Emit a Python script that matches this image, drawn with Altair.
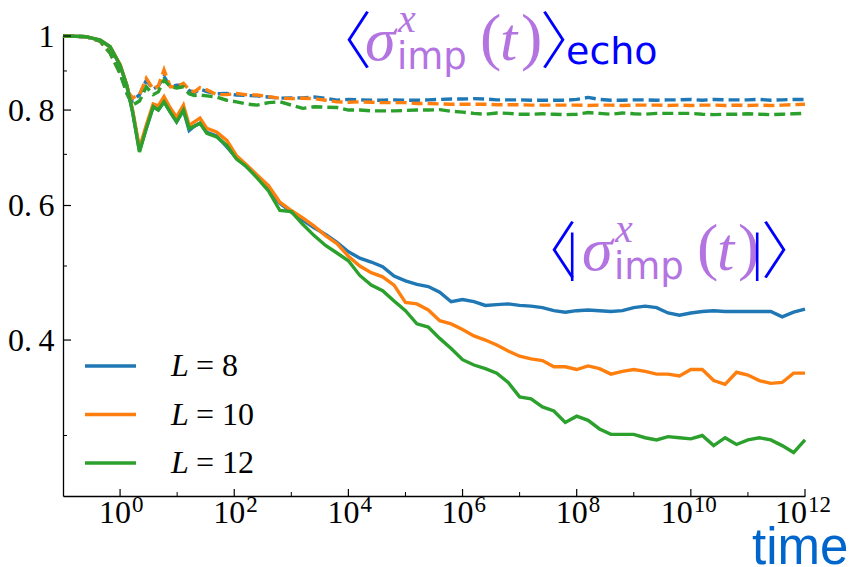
import altair as alt
import numpy as np
import pandas as pd

# ---------------- data ----------------
log_time = [-1.0, -0.6, -0.35, -0.175, 0.0, 0.12, 0.22, 0.34, 0.46, 0.58, 0.67, 0.77, 0.88, 0.99, 1.11, 1.21, 1.3, 1.4, 1.52, 1.69, 1.87, 2.04,
            2.2, 2.4, 2.6, 2.8, 3.0, 3.2, 3.4, 3.6, 3.8, 4.0, 4.2, 4.4, 4.6, 4.8, 5.0, 5.2, 5.4, 5.6, 5.8, 6.0, 6.2, 6.4, 6.6, 6.8,
            7.0, 7.2, 7.4, 7.6, 7.8, 8.0, 8.2, 8.4, 8.6, 8.8, 9.0, 9.2, 9.4, 9.6, 9.8, 10.0, 10.2, 10.4, 10.6, 10.8, 11.0, 11.2,
            11.4, 11.6, 11.8, 12.0]

abs_L8 = [1.0, 0.998, 0.988, 0.968, 0.916, 0.86, 0.795, 0.708, 0.758, 0.808, 0.80, 0.82, 0.795, 0.772, 0.80, 0.752, 0.762, 0.769, 0.748, 0.740, 0.716, 0.692,
          0.676, 0.655, 0.630, 0.604, 0.588, 0.574, 0.561, 0.550, 0.537, 0.522,
          0.512, 0.506, 0.499, 0.485, 0.478, 0.473, 0.470, 0.462, 0.449, 0.452,
          0.449, 0.444, 0.445, 0.446, 0.444, 0.443, 0.441, 0.437, 0.435, 0.437,
          0.438, 0.437, 0.436, 0.437, 0.441, 0.443, 0.441, 0.434, 0.431, 0.434,
          0.436, 0.437, 0.436, 0.436, 0.436, 0.436, 0.436, 0.429, 0.435, 0.439]
abs_L10 = [1.0, 0.998, 0.988, 0.968, 0.918, 0.862, 0.80, 0.714, 0.765, 0.815, 0.81, 0.833, 0.805, 0.783, 0.812, 0.764, 0.772, 0.781, 0.757, 0.749, 0.730, 0.697,
           0.680, 0.658, 0.637, 0.606, 0.591, 0.578, 0.564, 0.548, 0.535, 0.515,
           0.500, 0.490, 0.484, 0.472, 0.448, 0.446, 0.438, 0.424, 0.420, 0.413,
           0.405, 0.400, 0.394, 0.387, 0.381, 0.378, 0.376, 0.369, 0.369, 0.366,
           0.370, 0.367, 0.361, 0.364, 0.366, 0.364, 0.361, 0.361, 0.359, 0.366,
           0.366, 0.354, 0.350, 0.363, 0.360, 0.354, 0.351, 0.352, 0.362, 0.362]
abs_L12 = [1.0, 0.998, 0.988, 0.968, 0.916, 0.86, 0.795, 0.705, 0.757, 0.808, 0.80, 0.82, 0.795, 0.772, 0.80, 0.757, 0.762, 0.769, 0.746, 0.738, 0.719, 0.69,
           0.676, 0.652, 0.627, 0.591, 0.589, 0.567, 0.548, 0.532, 0.520, 0.508,
           0.486, 0.472, 0.464, 0.450, 0.437, 0.420, 0.416, 0.402, 0.390, 0.377,
           0.371, 0.367, 0.362, 0.352, 0.337, 0.335, 0.327, 0.323, 0.312, 0.318,
           0.314, 0.306, 0.301, 0.301, 0.301, 0.298, 0.296, 0.299, 0.298, 0.297,
           0.300, 0.291, 0.298, 0.292, 0.296, 0.298, 0.296, 0.291, 0.285, 0.296]

echo_L8 = [1.0, 0.998, 0.985, 0.95, 0.894, 0.845, 0.822, 0.838, 0.875, 0.852, 0.86, 0.885, 0.858, 0.862, 0.862, 0.848, 0.843, 0.852, 0.846, 0.84, 0.841, 0.837,
           0.836, 0.835, 0.832, 0.829, 0.83, 0.83, 0.832, 0.829, 0.824, 0.826,
           0.825, 0.824, 0.824, 0.825, 0.824, 0.824, 0.825, 0.826, 0.827, 0.827,
           0.828, 0.827, 0.825, 0.825, 0.825, 0.824, 0.824, 0.824, 0.824, 0.826,
           0.831, 0.826, 0.824, 0.824, 0.825, 0.825, 0.824, 0.825, 0.825, 0.826,
           0.824, 0.826, 0.825, 0.825, 0.825, 0.826, 0.824, 0.825, 0.826, 0.826]
echo_L10 = [1.0, 0.998, 0.985, 0.95, 0.894, 0.848, 0.83, 0.838, 0.88, 0.852, 0.86, 0.903, 0.858, 0.858, 0.867, 0.85, 0.845, 0.856, 0.85, 0.838, 0.838, 0.841,
            0.838, 0.837, 0.833, 0.829, 0.828, 0.829, 0.828, 0.824, 0.82, 0.819,
            0.82, 0.819, 0.818, 0.818, 0.818, 0.816, 0.816, 0.815, 0.814, 0.814,
            0.814, 0.814, 0.813, 0.813, 0.813, 0.812, 0.812, 0.812, 0.812, 0.812,
            0.811, 0.812, 0.812, 0.811, 0.812, 0.812, 0.812, 0.811, 0.812, 0.811,
            0.812, 0.812, 0.811, 0.812, 0.811, 0.812, 0.811, 0.812, 0.813, 0.814]
echo_L12 = [1.0, 0.998, 0.985, 0.95, 0.894, 0.84, 0.812, 0.822, 0.858, 0.838, 0.845, 0.876, 0.858, 0.855, 0.858, 0.84, 0.836, 0.837, 0.835, 0.832, 0.824, 0.82,
            0.815, 0.812, 0.818, 0.82, 0.812, 0.804, 0.808, 0.807, 0.806, 0.80,
            0.80, 0.798, 0.798, 0.798, 0.799, 0.80, 0.80, 0.801, 0.797, 0.795,
            0.792, 0.79, 0.793, 0.792, 0.79, 0.79, 0.791, 0.79, 0.789, 0.79,
            0.794, 0.792, 0.79, 0.793, 0.791, 0.79, 0.792, 0.792, 0.792, 0.792,
            0.79, 0.789, 0.79, 0.79, 0.791, 0.79, 0.789, 0.79, 0.791, 0.792]

system_sizes = ["8", "10", "12"]
series_colors = ["#1f77b4", "#ff7f0e", "#2ca02c"]

x_major_ticks = [1e0, 1e2, 1e4, 1e6, 1e8, 1e10, 1e12]
x_tick_base = "10"
x_tick_exponents = ["0", "2", "4", "6", "8", "10", "12"]
x_minor_ticks = [1e1, 1e3, 1e5, 1e7, 1e9, 1e11]
y_major_ticks = [0.4, 0.6, 0.8, 1.0]
y_tick_labels = ["0.\u20094", "0.\u20096", "0.\u20098", "1"]
y_minor_ticks = [0.3, 0.5, 0.7, 0.9]

legend_prefix = "L"
x_title = "time"

# ---------------- frames ----------------
time = [10 ** v for v in log_time]
abs_series = {"8": abs_L8, "10": abs_L10, "12": abs_L12}
echo_series = {"8": echo_L8, "10": echo_L10, "12": echo_L12}

W, H = 742, 460
serif = "Liberation Serif"
sans = "DejaVu Sans"
cjk = "Noto Sans CJK SC"
LW = 3.4

y_expr = " : ".join(
    f"abs(datum.value - {v}) < 0.001 ? '{lab}'"
    for v, lab in zip(y_major_ticks, y_tick_labels)) + " : ''"

x_axis = alt.Axis(values=x_major_ticks, labels=False, ticks=False, grid=False,
                  domainColor="black", domainWidth=1.3, title=None)
y_axis = alt.Axis(values=y_major_ticks, labelExpr=y_expr, ticks=False, grid=False,
                  domainColor="black", domainWidth=1.3, labelFont=serif, labelFontSize=32,
                  labelColor="black", labelPadding=9, labelOverlap=False, title=None)

X = alt.X("time:Q", scale=alt.Scale(type="log", domain=[0.1, 1e12], nice=False), axis=x_axis)
Y = alt.Y("value:Q", scale=alt.Scale(type="log", domain=[0.25, 1.0], nice=False), axis=y_axis)

layers = []
for L, c in zip(system_sizes, series_colors):
    df = pd.DataFrame({"time": time, "value": echo_series[L]})
    layers.append(alt.Chart(df).mark_line(color=c, strokeWidth=LW, strokeDash=[11, 5])
                  .encode(x=X, y=Y))
for L, c in zip(system_sizes, series_colors):
    df = pd.DataFrame({"time": time, "value": abs_series[L]})
    layers.append(alt.Chart(df).mark_line(color=c, strokeWidth=LW).encode(x=X, y=Y))

# inward tick marks
xt_major = pd.DataFrame({"time": x_major_ticks})
xt_minor = pd.DataFrame({"time": x_minor_ticks})
yt_major = pd.DataFrame({"value": y_major_ticks})
yt_minor = pd.DataFrame({"value": y_minor_ticks})
layers.append(alt.Chart(xt_major).mark_rule(color="black", strokeWidth=1.2)
              .encode(x=X, y=alt.value(H), y2=alt.value(H - 7)))
layers.append(alt.Chart(xt_minor).mark_rule(color="black", strokeWidth=1.0)
              .encode(x=X, y=alt.value(H), y2=alt.value(H - 4)))
layers.append(alt.Chart(yt_major).mark_rule(color="black", strokeWidth=1.2)
              .encode(y=Y, x=alt.value(0), x2=alt.value(8)))
layers.append(alt.Chart(yt_minor).mark_rule(color="black", strokeWidth=1.0)
              .encode(y=Y, x=alt.value(0), x2=alt.value(4)))

# x tick labels: "10" with raised exponent
xl = pd.DataFrame({"time": x_major_ticks, "exp": x_tick_exponents})
xl_short = xl[xl["exp"].str.len() == 1]
xl_long = xl[xl["exp"].str.len() > 1]
for frame, shift in ((xl_short, 11), (xl_long, 2)):
    layers.append(alt.Chart(frame).mark_text(
        text=x_tick_base, align="right", baseline="alphabetic", font=serif, fontSize=32,
        color="black", dx=shift).encode(x=X, y=alt.value(H + 27)))
    layers.append(alt.Chart(frame).mark_text(
        align="left", baseline="alphabetic", font=serif, fontSize=23,
        color="black", dx=shift + 1).encode(x=X, y=alt.value(H + 16), text="exp:N"))

main = alt.layer(*layers)

# ---------------- legend ----------------
leg_df = pd.DataFrame({"row": [0, 1, 2], "L": system_sizes,
                       "eq": ["= " + s for s in system_sizes]})
YL = alt.Y("row:Q", scale=alt.Scale(domain=[0, 2], range=[330, 427]), axis=None)
CL = alt.Color("L:N", scale=alt.Scale(domain=system_sizes, range=series_colors), legend=None)
leg_lines = alt.Chart(leg_df).mark_rule(strokeWidth=LW).encode(
    x=alt.value(22), x2=alt.value(73), y=YL, color=CL)
leg_L = alt.Chart(leg_df).mark_text(text=legend_prefix, align="left", baseline="middle",
                                    font=serif, fontSize=32, fontStyle="italic", color="black").encode(
    x=alt.value(108), y=YL)
leg_eq = alt.Chart(leg_df).mark_text(align="left", baseline="middle", font=serif, fontSize=32,
                                     color="black").encode(x=alt.value(133), y=YL, text="eq:N")
legend = alt.layer(leg_lines, leg_L, leg_eq)

# ---------------- annotations ----------------
purple = "#b374e2"
blue = "#0000ff"
OX, OY = 63, 36


def txt(s, x, y, size, color, font, style="normal", align="left", weight="normal"):
    return alt.Chart(pd.DataFrame({"s": [s]})).mark_text(
        align=align, baseline="alphabetic", font=font, fontSize=size, fontStyle=style,
        fontWeight=weight, color=color).encode(x=alt.value(x - OX), y=alt.value(y - OY), text="s:N")


def expr_label(x0, base, bars, tail):
    parts = []
    x = x0
    parts.append(txt("〈", x - 6, base + 4, 62, blue, cjk, align="center", weight=300))
    x += 18
    if bars:
        parts.append(txt("|", x - 3, base, 52, blue, serif))
        x += 12
    parts.append(txt("σ", x, base, 62, purple, serif, "italic"))
    parts.append(txt("x", x + 33, base - 28, 40, purple, serif, "italic"))
    parts.append(txt("imp", x + 32, base + 9, 37, purple, sans))
    parts.append(txt("(", x + 115, base - 2, 64, purple, serif))
    parts.append(txt("t", x + 135, base, 62, purple, serif, "italic"))
    parts.append(txt(")", x + 156, base - 2, 64, purple, serif))
    x += 180
    if bars:
        parts.append(txt("|", x - 10, base, 52, blue, serif))
        x += 12
        parts.append(txt("〉", x + 18, base + 4, 62, blue, cjk, align="center", weight=300))
    else:
        parts.append(txt("〉", x + 26, base + 4, 62, blue, cjk, align="center", weight=300))
    if tail:
        parts.append(txt(tail, x + 21, base + 4, 38, blue, sans))
    return parts


annots = expr_label(347, 60, False, "echo") + expr_label(552, 270, True, "")
annots.append(txt(x_title, 752, 564, 51, "#0066cc", "Liberation Sans"))

chart = alt.layer(main, legend, *annots).resolve_scale(y="independent").properties(
    width=W, height=H,
    padding={"left": OX, "top": OY, "right": 854 - OX - W, "bottom": 567 - OY - H},
    autosize=alt.AutoSizeParams(type="none"),
    background="white",
).configure_view(stroke=None)

chart.save("out.html", embed_options={"renderer": "svg", "actions": False})
